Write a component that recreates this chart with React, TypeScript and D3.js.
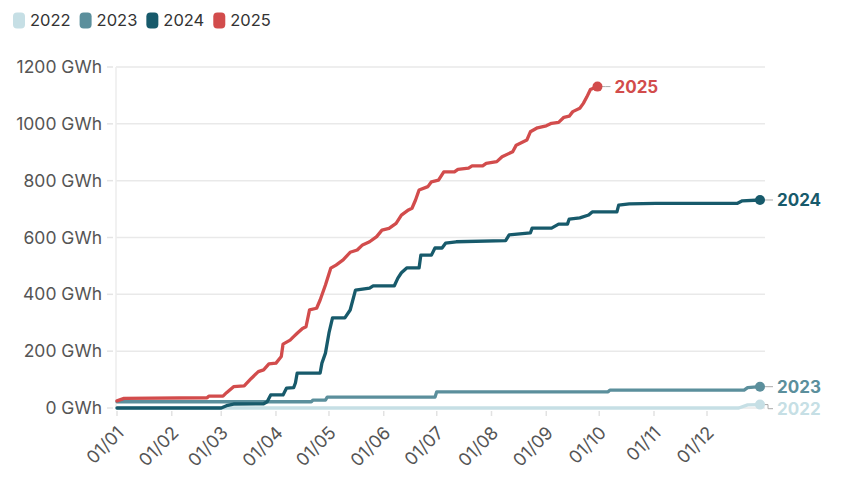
import React, { useEffect, useRef } from 'react'
import * as d3 from 'd3'

const years = ['2022', '2023', '2024', '2025']
const colors = ['#c6dfe5', '#5b8f9c', '#175a6b', '#d24c4c']

const yTicks = [0, 200, 400, 600, 800, 1000, 1200]

const dates2022 = ['01-01', '12-19', '12-24', '12-31']
const values2022 = [0, 0, 11, 12]

const dates2023 = ['01-01', '04-21', '04-22', '04-29', '04-30', '06-30', '07-01', '10-06', '10-07', '12-22', '12-24', '12-31']
const values2023 = [22, 22, 28, 28, 38, 38, 57, 57, 63, 63, 72, 75]

const dates2024 = [
    '01-01', '03-01', '03-04', '03-08', '03-25', '03-27', '03-29', '04-05', '04-07', '04-11',
    '04-12', '04-13', '04-26', '04-27', '04-29', '05-01', '05-03', '05-10', '05-13', '05-16',
    '05-24', '05-26', '06-07', '06-09', '06-11', '06-14', '06-21', '06-22', '06-28', '06-30',
    '07-04', '07-06', '07-12', '08-09', '08-11', '08-23', '08-24', '09-04', '09-08', '09-13',
    '09-14', '09-20', '09-25', '09-27', '10-11', '10-12', '10-18', '11-02', '12-18', '12-21', '12-31'
]
const values2024 = [
    0, 0, 8, 14, 15, 22, 46, 46, 70, 72,
    88, 123, 123, 158, 193, 264, 317, 317, 345, 415,
    422, 430, 430, 457, 476, 493, 493, 538, 538, 563,
    563, 580, 585, 589, 609, 616, 633, 633, 647, 647,
    665, 669, 679, 690, 690, 714, 718, 720, 720, 729, 732
]

const dates2025 = [
    '01-01', '01-05', '02-21', '02-22', '03-02', '03-04', '03-08', '03-14', '03-18', '03-22',
    '03-25', '03-28', '04-01', '04-04', '04-05', '04-09', '04-11', '04-13', '04-16', '04-18',
    '04-20', '04-24', '04-26', '04-29', '05-02', '05-05', '05-09', '05-13', '05-17', '05-20',
    '05-24', '05-28', '05-31', '06-04', '06-08', '06-11', '06-15', '06-17', '06-19', '06-21',
    '06-26', '06-28', '07-02', '07-05', '07-11', '07-13', '07-19', '07-21', '07-27', '07-29',
    '08-04', '08-07', '08-13', '08-15', '08-21', '08-23', '08-27', '09-01', '09-04', '09-08',
    '09-11', '09-14', '09-16', '09-20', '09-22', '09-24', '09-26', '09-30'
]
const values2025 = [
    25, 34, 36, 42, 42, 54, 75, 78, 104, 128,
    134, 155, 158, 181, 225, 239, 251, 263, 280, 286,
    345, 351, 380, 433, 492, 503, 521, 548, 556, 574,
    585, 603, 626, 632, 650, 679, 697, 703, 732, 767,
    779, 796, 802, 831, 831, 840, 844, 852, 852, 861,
    867, 884, 902, 925, 943, 972, 986, 993, 1002, 1005,
    1023, 1027, 1043, 1055, 1072, 1095, 1121, 1131
]

const seriesDates = [dates2022, dates2023, dates2024, dates2025]
const seriesValues = [values2022, values2023, values2024, values2025]

const FONT = 'Inter, "Open Sans", sans-serif'

const toDate = (s: string) => {
    const [m, d] = s.split('-').map(Number)
    return new Date(2001, m - 1, d)
}

const App: React.FC = () => {
    const chartRef = useRef<SVGSVGElement | null>(null)

    useEffect(() => {
        document.body.style.margin = '0'
        if (!chartRef.current) return
        const width = 855
        const height = 483

        const svg = d3.select(chartRef.current)
        svg.selectAll('*').remove()
        svg.attr('width', width).attr('height', height)

        const x = d3.scaleTime()
            .domain([new Date(2001, 0, 1), new Date(2001, 11, 31)])
            .range([117, 760])
        const y = d3.scaleLinear().domain([0, 1200]).range([408, 67])

        // grid
        const grid = svg.append('g')
        grid.selectAll('line.grid')
            .data(yTicks)
            .enter()
            .append('line')
            .attr('x1', 116)
            .attr('x2', 765)
            .attr('y1', d => y(d))
            .attr('y2', d => y(d))
            .attr('stroke', '#e9e9e9')
            .attr('stroke-width', 1.5)
        grid.selectAll('line.tick')
            .data(yTicks)
            .enter()
            .append('line')
            .attr('x1', 107)
            .attr('x2', 113)
            .attr('y1', d => y(d))
            .attr('y2', d => y(d))
            .attr('stroke', '#e4e4e4')
            .attr('stroke-width', 1.5)
        grid.append('line')
            .attr('x1', 116).attr('x2', 116)
            .attr('y1', y(1200)).attr('y2', y(0))
            .attr('stroke', '#ececec')
            .attr('stroke-width', 1.5)

        svg.append('g').selectAll('text')
            .data(yTicks)
            .enter()
            .append('text')
            .attr('x', 102)
            .attr('y', d => y(d))
            .attr('dy', '0.35em')
            .attr('text-anchor', 'end')
            .style('font-family', FONT)
            .style('font-size', '17.5px')
            .style('fill', '#555')
            .text(d => `${d} GWh`)

        // x axis
        const months = x.ticks(d3.timeMonth.every(1) as d3.TimeInterval)
        const fmt = d3.timeFormat('%d/%m')
        const xAxis = svg.append('g')
        xAxis.selectAll('line')
            .data(months)
            .enter()
            .append('line')
            .attr('x1', d => x(d))
            .attr('x2', d => x(d))
            .attr('y1', 411)
            .attr('y2', 416)
            .attr('stroke', '#e2e2e2')
            .attr('stroke-width', 1.5)
        xAxis.selectAll('text')
            .data(months)
            .enter()
            .append('text')
            .attr('transform', d => `translate(${x(d) + 8},${434}) rotate(-45)`)
            .attr('text-anchor', 'end')
            .style('font-family', FONT)
            .style('font-size', '18px')
            .style('fill', '#555')
            .text(d => fmt(d))

        // lines
        const line = d3.line<[Date, number]>()
            .x(d => x(d[0]))
            .y(d => y(d[1]))

        const seriesData = seriesDates.map((ds, i) =>
            ds.map((d, j) => [toDate(d), seriesValues[i][j]] as [Date, number]))

        svg.append('g').selectAll('path')
            .data(seriesData)
            .enter()
            .append('path')
            .attr('d', d => line(d))
            .attr('fill', 'none')
            .attr('stroke', (d, i) => colors[i])
            .attr('stroke-width', 3.3)
            .attr('stroke-linejoin', 'round')
            .attr('stroke-linecap', 'round')

        // end labels, pushed apart where they would overlap
        const ends = seriesData.map((s, i) => {
            const last = s[s.length - 1]
            return { i, cx: x(last[0]), cy: y(last[1]), ly: y(last[1]) }
        })
        const sorted = [...ends].sort((a, b) => a.cy - b.cy)
        for (let k = 1; k < sorted.length; k++) {
            if (sorted[k].ly - sorted[k - 1].ly < 22) sorted[k].ly = sorted[k - 1].ly + 22
        }
        const labels = svg.append('g')
        ends.forEach(e => {
            labels.append('path')
                .attr('d', `M${e.cx + 3},${e.cy}H${e.cx + 8}V${e.ly}H${e.cx + 13}`)
                .attr('fill', 'none')
                .attr('stroke', '#aaa')
                .attr('stroke-width', 1)
            labels.append('circle')
                .attr('cx', e.cx)
                .attr('cy', e.cy)
                .attr('r', 5)
                .attr('fill', colors[e.i])
            labels.append('text')
                .attr('x', e.cx + 17)
                .attr('y', e.ly)
                .attr('dy', '0.35em')
                .style('font-family', FONT)
                .style('font-size', '17px')
                .style('font-weight', '700')
                .style('fill', colors[e.i])
                .text(years[e.i])
        })

        // legend
        const legend = svg.append('g')
        let lx = 13
        years.forEach((yr, i) => {
            legend.append('rect')
                .attr('x', lx)
                .attr('y', 12.5)
                .attr('width', 12)
                .attr('height', 16)
                .attr('rx', 4)
                .attr('fill', colors[i])
            const t = legend.append('text')
                .attr('x', lx + 17)
                .attr('y', 20.5)
                .attr('dy', '0.35em')
                .style('font-family', FONT)
                .style('font-size', '16.5px')
                .style('fill', '#333')
                .text(yr)
            const w = (t.node() as SVGTextElement).getComputedTextLength()
            lx += 17 + w + 9
        })
    }, [])

    return <svg ref={chartRef} style={{ display: 'block', background: 'white' }}></svg>
}

export default App
